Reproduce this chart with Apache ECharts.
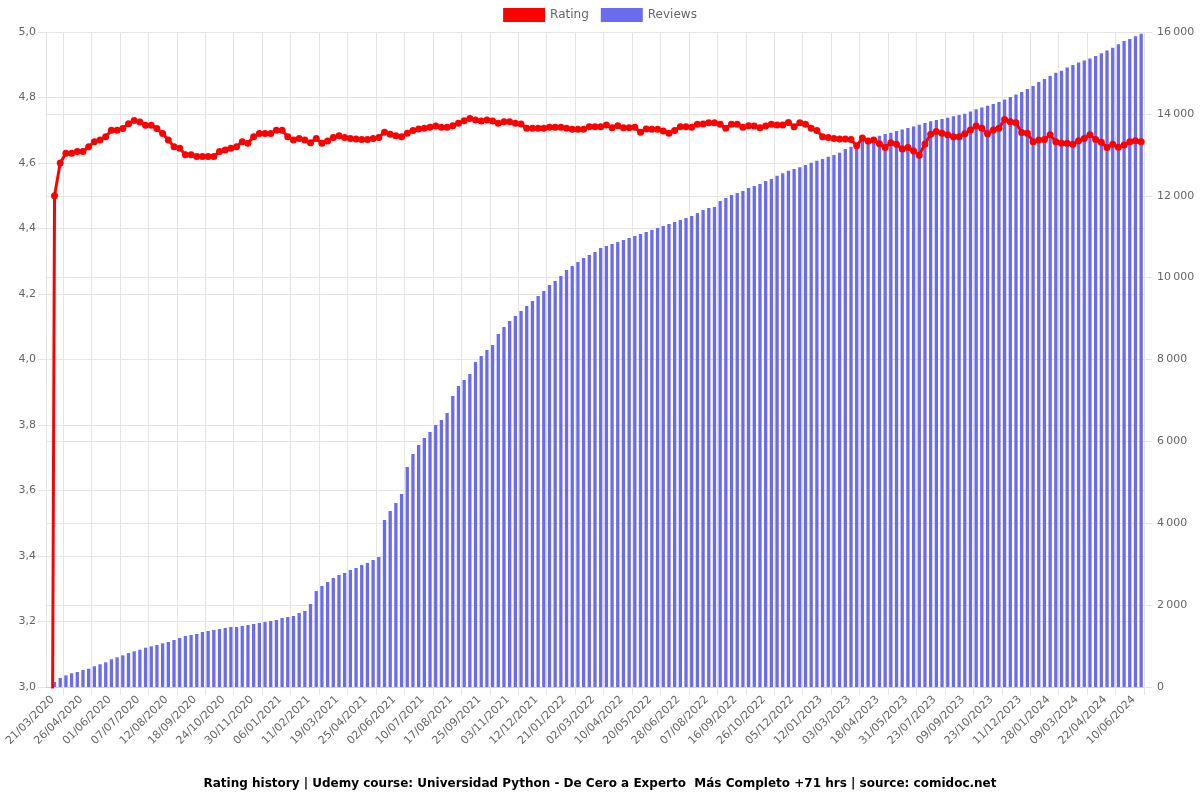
<!DOCTYPE html>
<html>
<head>
<meta charset="utf-8">
<script src="https://cdn.jsdelivr.net/npm/echarts@6/dist/echarts.min.js"></script>
<style>html,body{margin:0;padding:0;background:#fff}#c{width:1200px;height:800px}</style>
</head>
<body>
<div id="c"></div>
<script>
const categories = [
'21/03/2020','28/03/2020','04/04/2020','12/04/2020','19/04/2020',
'26/04/2020','03/05/2020','10/05/2020','18/05/2020','25/05/2020',
'01/06/2020','08/06/2020','15/06/2020','23/06/2020','30/06/2020',
'07/07/2020','14/07/2020','21/07/2020','29/07/2020','05/08/2020',
'12/08/2020','19/08/2020','26/08/2020','03/09/2020','10/09/2020',
'18/09/2020','25/09/2020','02/10/2020','10/10/2020','17/10/2020',
'24/10/2020','31/10/2020','07/11/2020','15/11/2020','22/11/2020',
'30/11/2020','07/12/2020','14/12/2020','22/12/2020','29/12/2020',
'06/01/2021','13/01/2021','20/01/2021','28/01/2021','04/02/2021',
'11/02/2021','18/02/2021','25/02/2021','05/03/2021','12/03/2021',
'19/03/2021','26/03/2021','02/04/2021','10/04/2021','17/04/2021',
'25/04/2021','02/05/2021','10/05/2021','17/05/2021','25/05/2021',
'02/06/2021','09/06/2021','17/06/2021','24/06/2021','02/07/2021',
'10/07/2021','17/07/2021','25/07/2021','01/08/2021','09/08/2021',
'17/08/2021','25/08/2021','01/09/2021','09/09/2021','17/09/2021',
'25/09/2021','03/10/2021','10/10/2021','18/10/2021','26/10/2021',
'03/11/2021','11/11/2021','18/11/2021','26/11/2021','04/12/2021',
'12/12/2021','20/12/2021','28/12/2021','05/01/2022','13/01/2022',
'21/01/2022','29/01/2022','06/02/2022','14/02/2022','22/02/2022',
'02/03/2022','10/03/2022','17/03/2022','25/03/2022','02/04/2022',
'10/04/2022','18/04/2022','26/04/2022','04/05/2022','12/05/2022',
'20/05/2022','28/05/2022','04/06/2022','12/06/2022','20/06/2022',
'28/06/2022','06/07/2022','14/07/2022','22/07/2022','30/07/2022',
'07/08/2022','15/08/2022','23/08/2022','31/08/2022','08/09/2022',
'16/09/2022','24/09/2022','02/10/2022','10/10/2022','18/10/2022',
'26/10/2022','03/11/2022','11/11/2022','19/11/2022','27/11/2022',
'05/12/2022','12/12/2022','20/12/2022','27/12/2022','04/01/2023',
'12/01/2023','22/01/2023','01/02/2023','11/02/2023','21/02/2023',
'03/03/2023','12/03/2023','21/03/2023','30/03/2023','08/04/2023',
'18/04/2023','26/04/2023','05/05/2023','14/05/2023','22/05/2023',
'31/05/2023','11/06/2023','21/06/2023','02/07/2023','12/07/2023',
'23/07/2023','01/08/2023','11/08/2023','21/08/2023','30/08/2023',
'09/09/2023','17/09/2023','26/09/2023','05/10/2023','14/10/2023',
'23/10/2023','01/11/2023','11/11/2023','21/11/2023','01/12/2023',
'11/12/2023','20/12/2023','30/12/2023','09/01/2024','18/01/2024',
'28/01/2024','05/02/2024','13/02/2024','21/02/2024','29/02/2024',
'09/03/2024','17/03/2024','26/03/2024','04/04/2024','13/04/2024',
'22/04/2024','01/05/2024','11/05/2024','21/05/2024','31/05/2024',
'10/06/2024','19/06/2024','28/06/2024'
];

const ratingValues = [
0, 4.50, 4.60, 4.63, 4.63, 4.635, 4.635, 4.65, 4.665, 4.67,
4.68, 4.70, 4.70, 4.705, 4.72, 4.73, 4.725, 4.715, 4.715, 4.705,
4.69, 4.67, 4.65, 4.645, 4.625, 4.625, 4.62, 4.62, 4.62, 4.62,
4.635, 4.64, 4.645, 4.65, 4.665, 4.66, 4.68, 4.69, 4.69, 4.69,
4.70, 4.70, 4.68, 4.67, 4.675, 4.67, 4.662, 4.675, 4.66, 4.667,
4.678, 4.683, 4.678, 4.675, 4.673, 4.672, 4.672, 4.675, 4.678, 4.694,
4.688, 4.683, 4.68, 4.691, 4.699, 4.704, 4.706, 4.709, 4.713, 4.709,
4.709, 4.714, 4.721, 4.729, 4.736, 4.731, 4.728, 4.731, 4.728, 4.721,
4.726, 4.726, 4.721, 4.719, 4.706, 4.706, 4.706, 4.706, 4.709, 4.709,
4.709, 4.706, 4.703, 4.703, 4.703, 4.711, 4.711, 4.711, 4.716, 4.708,
4.714, 4.708, 4.708, 4.709, 4.694, 4.704, 4.703, 4.703, 4.698, 4.691,
4.699, 4.711, 4.711, 4.709, 4.718, 4.719, 4.723, 4.723, 4.718, 4.706,
4.718, 4.718, 4.709, 4.714, 4.713, 4.708, 4.713, 4.718, 4.716, 4.716,
4.724, 4.711, 4.723, 4.718, 4.706, 4.699, 4.680, 4.678, 4.675, 4.673,
4.673, 4.672, 4.653, 4.676, 4.667, 4.670, 4.659, 4.647, 4.662, 4.657,
4.643, 4.647, 4.637, 4.624, 4.658, 4.688, 4.696, 4.691, 4.686, 4.680,
4.680, 4.689, 4.701, 4.713, 4.706, 4.689, 4.701, 4.706, 4.733, 4.726,
4.723, 4.693, 4.691, 4.665, 4.670, 4.672, 4.686, 4.665, 4.660, 4.660,
4.657, 4.668, 4.675, 4.686, 4.672, 4.663, 4.647, 4.657, 4.648, 4.655,
4.665, 4.668, 4.665
];

const reviewValues = [
0, 122, 220, 285, 335, 366, 415, 447, 506, 555,
603, 677, 725, 774, 831, 872, 911, 960, 994, 1026,
1067, 1099, 1148, 1197, 1246, 1270, 1295, 1344, 1368, 1393,
1417, 1441, 1466, 1466, 1490, 1515, 1539, 1564, 1588, 1612,
1637, 1686, 1710, 1735, 1808, 1857, 2028, 2345, 2467, 2565,
2663, 2736, 2785, 2858, 2907, 2980, 3029, 3103, 3176, 4080,
4300, 4495, 4715, 5375, 5692, 5912, 6083, 6230, 6400, 6523,
6694, 7109, 7353, 7500, 7647, 7940, 8086, 8233, 8355, 8624,
8794, 8941, 9064, 9186, 9308, 9430, 9552, 9674, 9821, 9919,
10041, 10187, 10285, 10383, 10481, 10554, 10628, 10725, 10774, 10823,
10872, 10921, 10970, 11018, 11067, 11116, 11165, 11214, 11262, 11311,
11360, 11409, 11458, 11506, 11580, 11653, 11702, 11726, 11873, 11946,
12020, 12068, 12117, 12190, 12239, 12288, 12361, 12410, 12491, 12550,
12613, 12655, 12696, 12752, 12809, 12858, 12899, 12955, 12997, 13053,
13143, 13200, 13265, 13339, 13387, 13429, 13468, 13510, 13541, 13583,
13620, 13656, 13693, 13737, 13779, 13820, 13852, 13876, 13908, 13942,
13974, 14006, 14060, 14113, 14157, 14199, 14243, 14292, 14353, 14414,
14475, 14536, 14609, 14683, 14780, 14853, 14927, 15007, 15056, 15130,
15195, 15252, 15301, 15350, 15416, 15481, 15547, 15618, 15701, 15782,
15831, 15897, 15960
];

const titleText = 'Rating history | Udemy course: Universidad Python - De Cero a Experto  Más Completo +71 hrs | source: comidoc.net';

const FONT = 'DejaVu Sans';
const GRID_COLOR = '#e5e5e5';
const LABEL_COLOR = '#666';

const chart = echarts.init(document.getElementById('c'), null, {renderer: 'canvas'});
chart.setOption({
  animation: false,
  textStyle: {fontFamily: FONT},
  title: {
    text: titleText,
    left: 'center',
    bottom: 5,
    textStyle: {fontFamily: FONT, fontSize: 12, fontWeight: 'bold', color: '#000'}
  },
  legend: {
    top: 3,
    left: 'center',
    itemWidth: 42,
    itemHeight: 14,
    itemGap: 12,
    textStyle: {fontFamily: FONT, fontSize: 12, color: LABEL_COLOR},
    data: [
      {name: 'Rating', icon: 'rect'},
      {name: 'Reviews', icon: 'rect'}
    ]
  },
  grid: {left: 46, right: 56, top: 32, bottom: 113, containLabel: false, outerBoundsMode: 'none'},
  xAxis: {
    type: 'category',
    data: categories,
    boundaryGap: true,
    axisLine: {show: true, lineStyle: {color: '#d0d0d0'}},
    axisTick: {show: true, length: 8, interval: (i) => i % 5 === 3, lineStyle: {color: GRID_COLOR}},
    splitLine: {show: true, interval: (i) => i % 5 === 3, lineStyle: {color: GRID_COLOR}},
    axisLabel: {interval: 4, rotate: 45, margin: 7, verticalAlign: 'top', fontSize: 11, color: LABEL_COLOR, fontFamily: FONT}
  },
  yAxis: [
    {
      type: 'value',
      min: 3, max: 5, interval: 0.2,
      position: 'left',
      axisLine: {show: true, lineStyle: {color: GRID_COLOR}},
      axisTick: {show: true, length: 8, lineStyle: {color: GRID_COLOR}},
      splitLine: {show: true, lineStyle: {color: GRID_COLOR}},
      axisLabel: {fontSize: 11, color: LABEL_COLOR, fontFamily: FONT, margin: 10,
        formatter: (v) => v.toFixed(1).replace('.', ',')}
    },
    {
      type: 'value',
      min: 0, max: 16000, interval: 2000,
      position: 'right',
      axisLine: {show: true, lineStyle: {color: GRID_COLOR}},
      axisTick: {show: true, length: 8, lineStyle: {color: GRID_COLOR}},
      splitLine: {show: true, lineStyle: {color: GRID_COLOR}},
      axisLabel: {fontSize: 11, color: LABEL_COLOR, fontFamily: FONT, margin: 13,
        formatter: (v) => String(v).replace(/\B(?=(\d{3})+(?!\d))/g, '\u202f')}
    }
  ],
  series: [
    {
      name: 'Rating',
      type: 'line',
      yAxisIndex: 0,
      data: ratingValues,
      color: '#ff0000',
      lineStyle: {width: 3, color: '#ff0000'},
      itemStyle: {color: '#ff0000'},
      symbol: 'circle',
      symbolSize: 7,
      showAllSymbol: true,
      z: 5
    },
    {
      name: 'Reviews',
      type: 'bar',
      yAxisIndex: 1,
      data: reviewValues,
      color: '#6b6bee',
      itemStyle: {color: '#6b6bee'},
      barWidth: 3.3,
      z: 2
    }
  ]
});
</script>
</body>
</html>
